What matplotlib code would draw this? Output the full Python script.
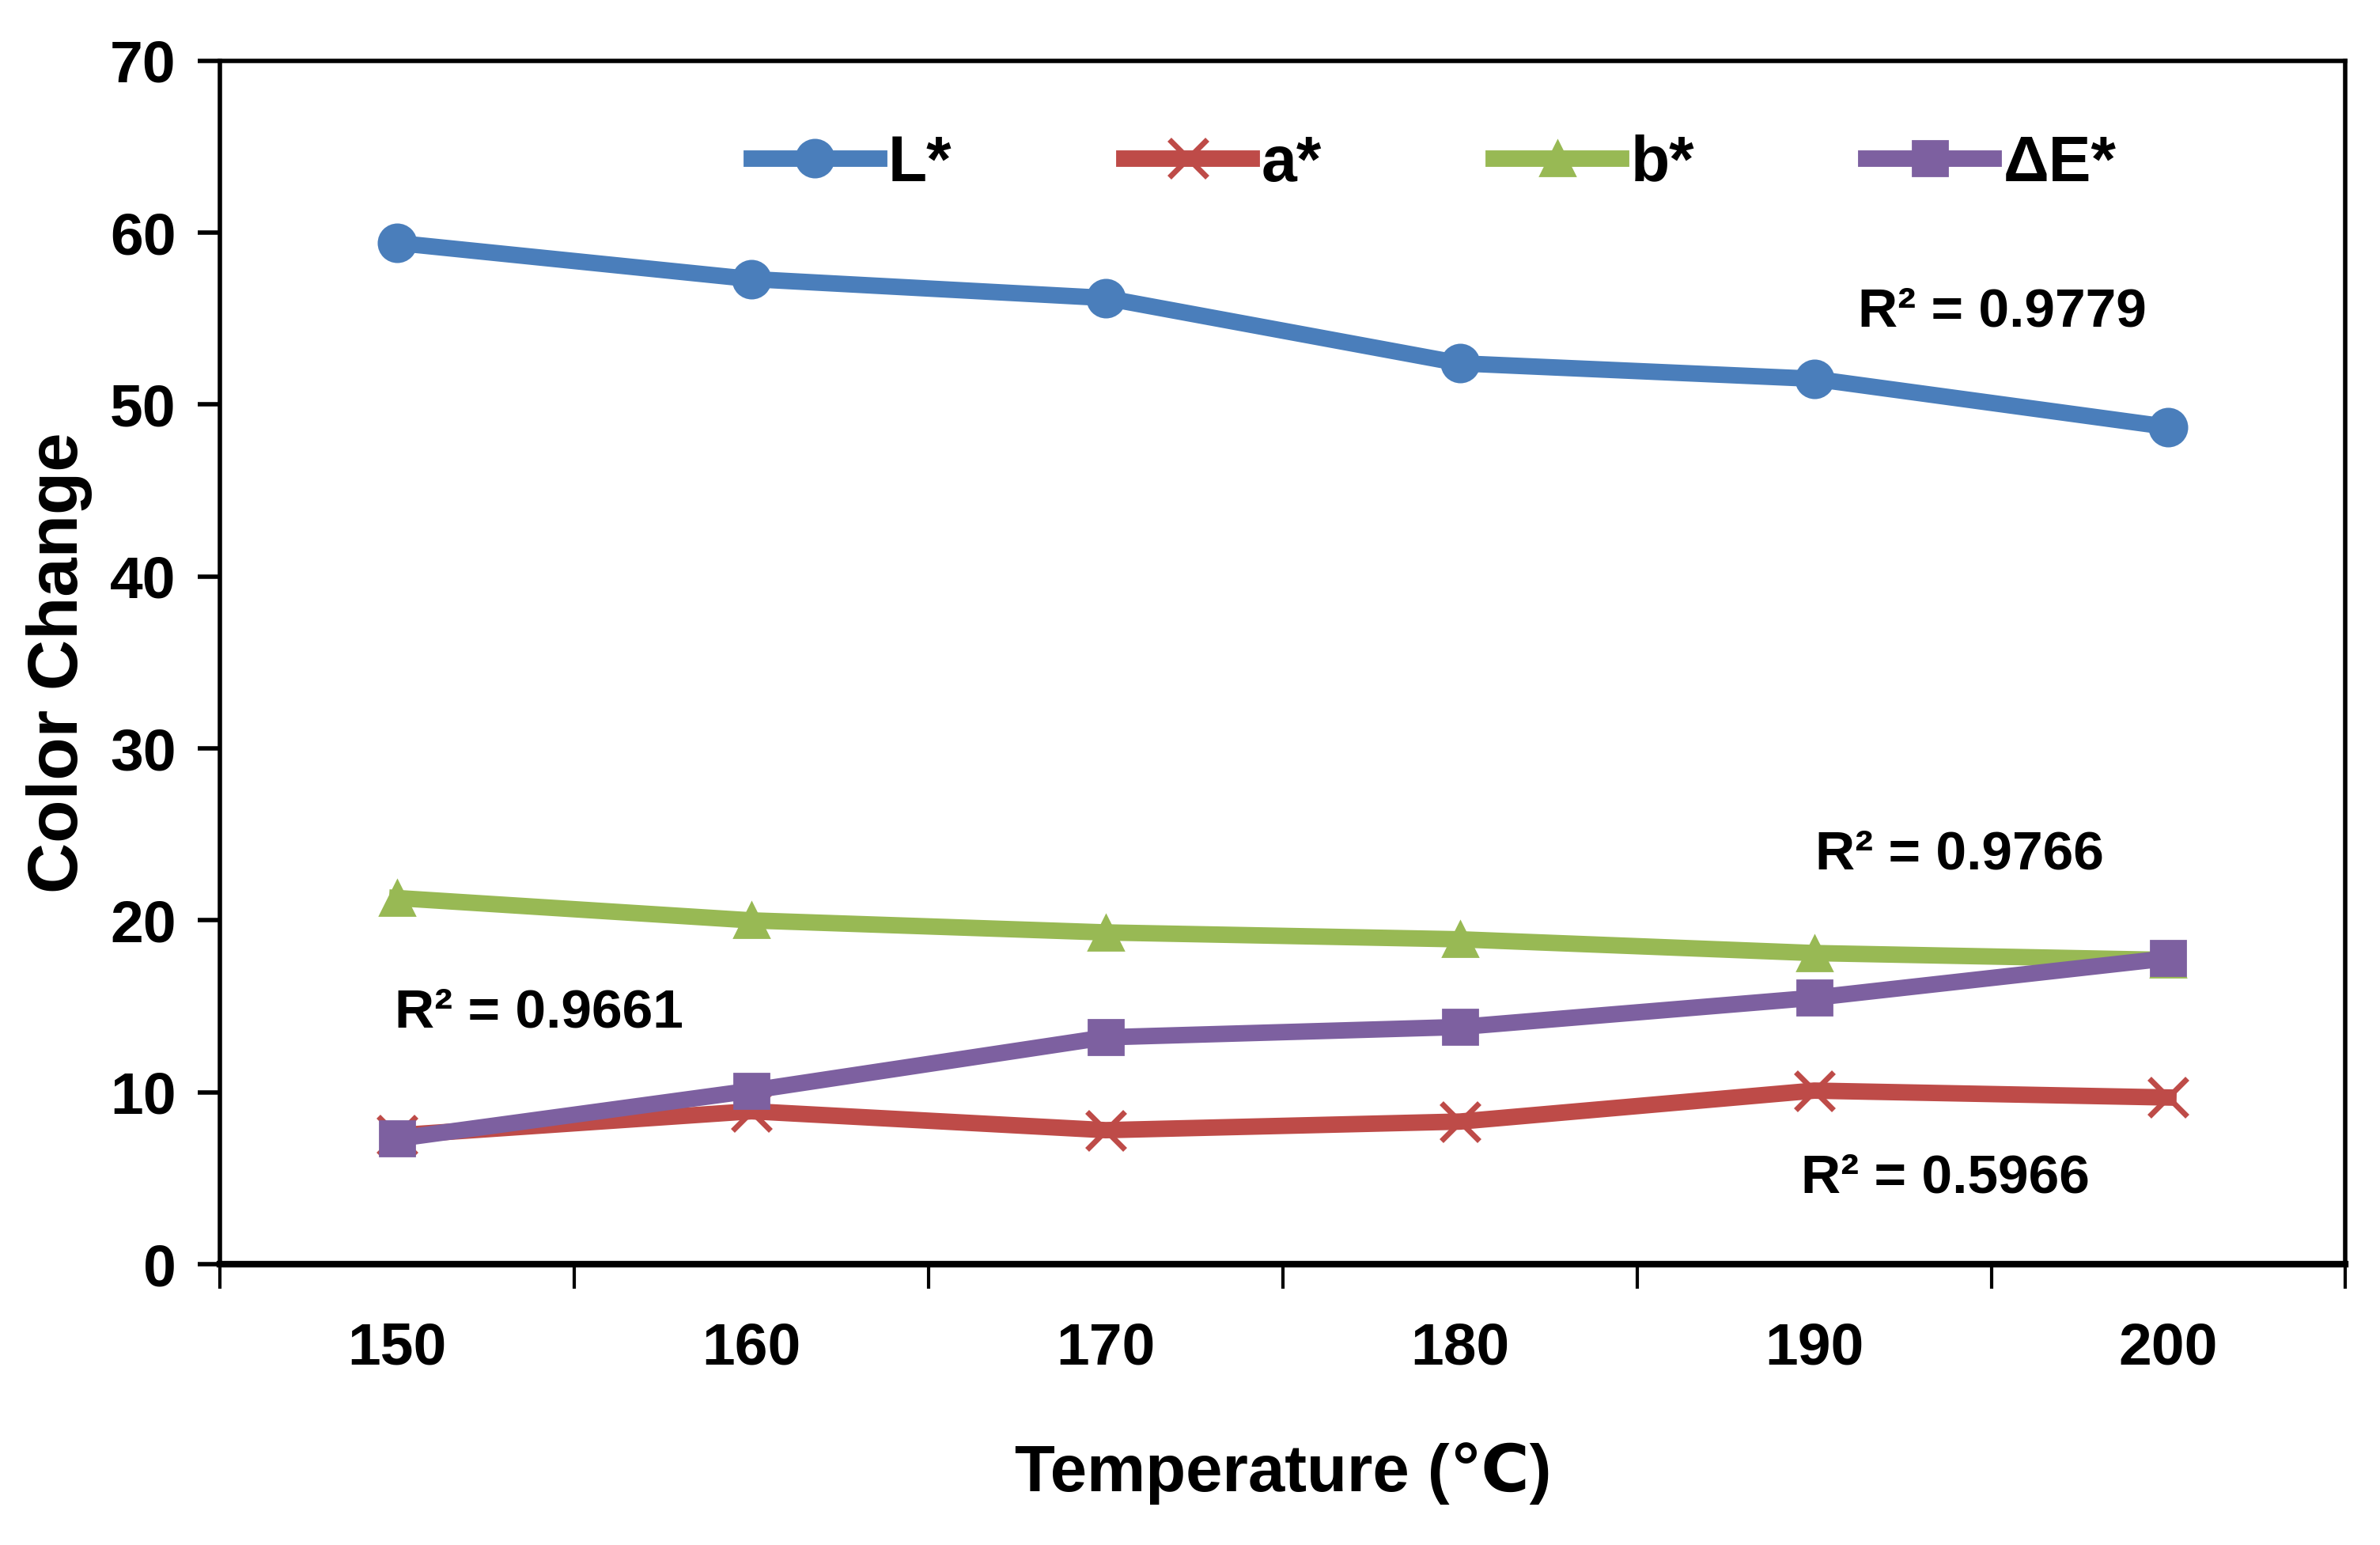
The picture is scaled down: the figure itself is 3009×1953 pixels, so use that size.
import matplotlib
matplotlib.use('Agg')
import matplotlib.pyplot as plt
import numpy as np

plt.rcParams['font.family'] = ['Liberation Sans', 'DejaVu Sans']
plt.rcParams['font.weight'] = 'bold'

temps = ['150', '160', '170', '180', '190', '200']
L_star = [59.4, 57.3, 56.2, 52.4, 51.5, 48.7]
a_star = [7.5, 8.9, 7.8, 8.3, 10.1, 9.7]
b_star = [21.3, 20.0, 19.3, 18.9, 18.1, 17.7]
dE_star = [7.3, 10.1, 13.2, 13.8, 15.5, 17.8]

r2_texts = ['R² = 0.9779', 'R² = 0.9766', 'R² = 0.9661', 'R² = 0.5966']
r2_x = [4.53, 4.41, 0.40, 4.37]
r2_y = [55.4, 23.8, 14.6, 5.0]

fig = plt.figure(figsize=(15.045, 9.765), dpi=200)
ax = fig.add_axes([0.0925, 0.1817, 0.893, 0.779])

x = np.arange(len(temps))
lw = 7.5
ax.plot(x, L_star, color='#4A7EBB', lw=lw, marker='o', ms=17, label='L*', zorder=3)
ax.plot(x, a_star, color='#BE4B48', lw=lw, marker='x', ms=17, mew=2.5, label='a*', zorder=3)
ax.plot(x, b_star, color='#98B954', lw=lw, marker='^', ms=16, label='b*', zorder=3)
ax.plot(x, dE_star, color='#7D60A0', lw=lw, marker='s', ms=16, label='ΔE*', zorder=4)

for t, tx, ty in zip(r2_texts, r2_x, r2_y):
    ax.text(tx, ty, t, ha='center', va='center', fontsize=25, fontweight='bold')

ax.set_xlim(-0.5, len(temps) - 0.5)
ax.set_ylim(0, 70)
ax.set_yticks(np.arange(0, 71, 10))
ax.set_xticks(x)
ax.set_xticklabels(temps)
ax.set_xticks(np.arange(-0.5, len(temps), 1), minor=True)
ax.tick_params(axis='x', which='major', length=0, pad=26, labelsize=27)
ax.tick_params(axis='x', which='minor', length=11, width=1.5, direction='out')
ax.tick_params(axis='y', length=10, width=2, direction='out', pad=10, labelsize=27)
for lab in ax.get_xticklabels() + ax.get_yticklabels():
    lab.set_fontweight('bold')

for s in ax.spines.values():
    s.set_linewidth(2)
ax.spines['bottom'].set_linewidth(3)

ax.set_xlabel('Temperature (℃)', fontsize=30, fontweight='bold', labelpad=30)
ax.set_ylabel('Color Change', fontsize=32, fontweight='bold', labelpad=8)

ax.legend(loc='center', bbox_to_anchor=(0.571, 0.914), ncol=4, frameon=False,
          fontsize=29, handlelength=2.0, handletextpad=0.15, columnspacing=2.7,
          numpoints=1)

fig.savefig('out.png', dpi=200, facecolor='white')
